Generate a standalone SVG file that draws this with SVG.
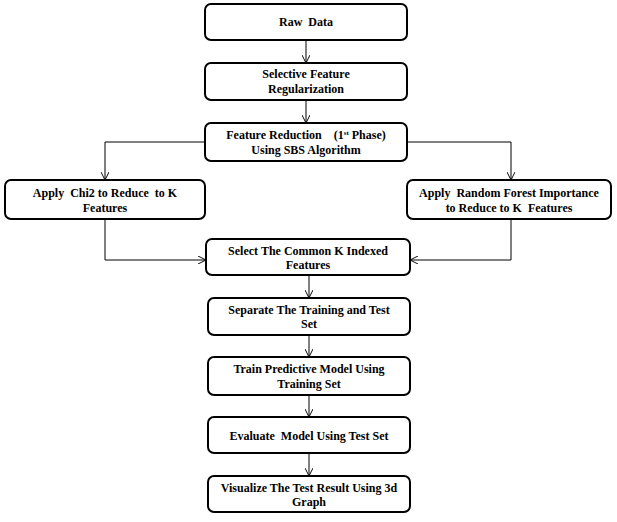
<svg xmlns="http://www.w3.org/2000/svg" width="617" height="522" viewBox="0 0 617 522">
  <defs>
    <marker id="arrow" viewBox="0 0 10 10" refX="10" refY="5" markerWidth="8" markerHeight="8" markerUnits="userSpaceOnUse" orient="auto">
      <path d="M0,0 L10,5 L0,10" fill="none" stroke="#000" stroke-width="1.2"/>
    </marker>
    <style>
      .box { fill: #fff; stroke: #000; stroke-width: 2; }
      .lbl { font-family: "Liberation Serif", "Times New Roman", serif; font-weight: bold; font-size: 12px; fill: #000; text-anchor: middle; white-space: pre; }
      .conn { fill: none; stroke: #000; stroke-width: 1; marker-end: url(#arrow); }
    </style>
  </defs>
  <rect width="617" height="522" fill="#fff"/>

  <g id="connectors">
    <path class="conn" d="M306,40 V63"/>
    <path class="conn" d="M306,100 V123"/>
    <path class="conn" d="M205,142 H105 V180"/>
    <path class="conn" d="M407,142 H511 V180"/>
    <path class="conn" d="M105,219 V260 H206"/>
    <path class="conn" d="M511,219 V260 H410"/>
    <path class="conn" d="M309,275 V298"/>
    <path class="conn" d="M309,335 V357"/>
    <path class="conn" d="M309,395 V417"/>
    <path class="conn" d="M309,453 V476"/>
  </g>

  <g id="raw-data">
    <rect class="box" x="205" y="4" width="202" height="36" rx="6"/>
    <text class="lbl" x="306" y="26" xml:space="preserve">Raw  Data</text>
  </g>

  <g id="selective-feature">
    <rect class="box" x="205" y="63" width="202" height="37" rx="6"/>
    <text class="lbl" x="306" y="78">Selective Feature</text>
    <text class="lbl" x="306" y="93">Regularization</text>
  </g>

  <g id="feature-reduction">
    <rect class="box" x="205" y="123" width="202" height="38" rx="6"/>
    <text class="lbl" x="306" y="139" xml:space="preserve">Feature Reduction    (1<tspan font-size="7" dy="-4">st</tspan><tspan dy="4"> Phase)</tspan></text>
    <text class="lbl" x="306" y="154">Using SBS Algorithm</text>
  </g>

  <g id="chi2">
    <rect class="box" x="5" y="180" width="200" height="39" rx="6"/>
    <text class="lbl" x="105" y="197" xml:space="preserve">Apply  Chi2 to Reduce  to K</text>
    <text class="lbl" x="105" y="212">Features</text>
  </g>

  <g id="random-forest">
    <rect class="box" x="407" y="180" width="204" height="39" rx="6"/>
    <text class="lbl" x="509" y="197" xml:space="preserve">Apply  Random Forest Importance</text>
    <text class="lbl" x="509" y="212" xml:space="preserve">to Reduce to K  Features</text>
  </g>

  <g id="common-k">
    <rect class="box" x="206" y="239" width="204" height="36" rx="6"/>
    <text class="lbl" x="308" y="255">Select The Common K Indexed</text>
    <text class="lbl" x="308" y="269">Features</text>
  </g>

  <g id="separate">
    <rect class="box" x="208" y="298" width="202" height="37" rx="6"/>
    <text class="lbl" x="309" y="314">Separate The Training and Test</text>
    <text class="lbl" x="309" y="328">Set</text>
  </g>

  <g id="train">
    <rect class="box" x="208" y="357" width="202" height="38" rx="6"/>
    <text class="lbl" x="309" y="373">Train Predictive Model Using</text>
    <text class="lbl" x="309" y="388">Training Set</text>
  </g>

  <g id="evaluate">
    <rect class="box" x="208" y="417" width="202" height="36" rx="6"/>
    <text class="lbl" x="309" y="440" xml:space="preserve">Evaluate  Model Using Test Set</text>
  </g>

  <g id="visualize">
    <rect class="box" x="208" y="476" width="202" height="36" rx="6"/>
    <text class="lbl" x="309" y="492">Visualize The Test Result Using 3d</text>
    <text class="lbl" x="309" y="506">Graph</text>
  </g>
</svg>
